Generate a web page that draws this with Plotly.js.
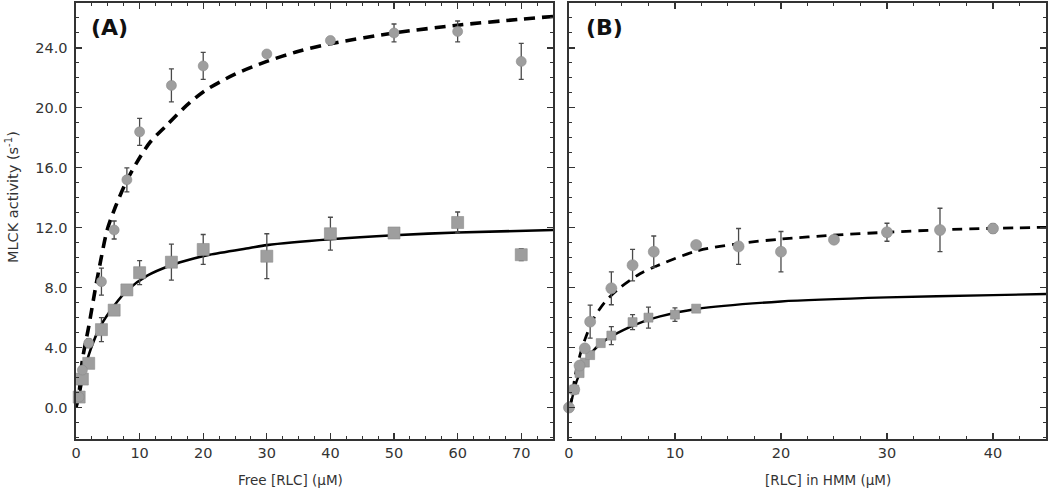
<!DOCTYPE html>
<html>
<head>
<meta charset="utf-8">
<script src="https://cdn.plot.ly/plotly-3.0.1.min.js"></script>
<style>html,body{margin:0;padding:0;background:#fff;}#chart{width:1050px;height:493px;}</style>
</head>
<body>
<div id="chart"></div>
<script>
// ---- Panel A: free RLC ----
const aCircleX   = [0.5, 1, 2, 4, 6, 8, 10, 15, 20, 30, 40, 50, 60, 70];
const aCircleY   = [0.7, 2.5, 4.3, 8.4, 11.85, 15.2, 18.4, 21.5, 22.8, 23.6, 24.5, 25.0, 25.1, 23.1];
const aCircleErr = [0.1, 0.2, 0.3, 0.9, 0.6, 0.8, 0.9, 1.1, 0.9, 0.15, 0.2, 0.6, 0.7, 1.2];

const aSquareX   = [0.5, 1, 2, 4, 6, 8, 10, 15, 20, 30, 40, 50, 60, 70];
const aSquareY   = [0.7, 1.9, 2.95, 5.2, 6.5, 7.85, 9.0, 9.7, 10.55, 10.1, 11.6, 11.65, 12.35, 10.2];
const aSquareErr = [0.1, 0.2, 0.2, 0.8, 0.2, 0.2, 0.8, 1.2, 1.0, 1.5, 1.1, 0.2, 0.7, 0.4];

const aDashX = [0, 0.47, 1.0, 2.0, 3.1, 3.9, 4.9, 6.2, 8.05, 10.1, 11.7, 14.3, 16.9, 20.1, 25, 30, 35, 40, 50, 60, 70, 75];
const aDashY = [0, 0.95, 3.17, 5.4, 8.07, 9.85, 11.85, 13.4, 15.2, 16.74, 17.74, 18.86, 19.97, 21.1, 22.25, 23.1, 23.78, 24.28, 25.0, 25.52, 25.92, 26.1];

const aSolidX = [0, 0.47, 1.25, 2.3, 3.87, 5.96, 8.05, 11.2, 14.85, 18.5, 21, 27.3, 30, 40, 50, 60, 75];
const aSolidY = [0, 0.72, 2.35, 3.88, 5.45, 6.78, 7.82, 8.8, 9.48, 9.95, 10.2, 10.65, 10.84, 11.23, 11.5, 11.68, 11.85];

// ---- Panel B: RLC in HMM ----
const bCircleX   = [0, 0.5, 1, 1.5, 2, 4, 6, 8, 12, 16, 20, 25, 30, 35, 40];
const bCircleY   = [0, 1.2, 2.8, 3.95, 5.73, 7.96, 9.5, 10.4, 10.85, 10.75, 10.4, 11.2, 11.7, 11.85, 11.95];
const bCircleErr = [0, 0.2, 0.2, 0.2, 1.1, 1.1, 1.05, 1.05, 0.15, 1.2, 1.35, 0.1, 0.6, 1.45, 0.3];

const bSquareX   = [0.5, 1, 1.5, 2, 3, 4, 6, 7.5, 10, 12];
const bSquareY   = [1.2, 2.3, 3.0, 3.5, 4.3, 4.8, 5.7, 6.0, 6.2, 6.6];
const bSquareErr = [0.1, 0.2, 0.2, 0.2, 0.2, 0.6, 0.5, 0.7, 0.45, 0.15];

const bDashX = [0, 0.25, 0.57, 1.04, 1.51, 2.3, 3.4, 4.81, 6.7, 8.27, 12.05, 16.1, 20.07, 24.9, 30, 35, 40, 45];
const bDashY = [0, 0.5, 2.06, 3.5, 4.55, 5.9, 7.05, 8.0, 8.93, 9.45, 10.45, 10.95, 11.25, 11.5, 11.7, 11.86, 11.96, 12.03];

const bSolidX = [0, 0.25, 0.72, 1.35, 2.3, 3.55, 5.12, 7.0, 8.6, 12, 20, 30, 40, 45];
const bSolidY = [0, 0.5, 1.75, 2.8, 3.8, 4.55, 5.17, 5.73, 6.08, 6.58, 7.08, 7.35, 7.5, 7.58];

const yTickVals = [0, 4, 8, 12, 16, 20, 24];

const markerFill = '#9e9e9e';
const markerEdge = '#8c8c8c';
const errColor = '#4a4a4a';
const FONT = 'DejaVu Sans, Liberation Sans, Arial, sans-serif';

function curve(x, y, xa, ya, dash, width) {
  return {x: x, y: y, xaxis: xa, yaxis: ya, type: 'scatter', mode: 'lines',
    line: {color: '#000', width: width, dash: dash, shape: 'spline', smoothing: 0.8},
    hoverinfo: 'skip', showlegend: false};
}
function pts(x, y, err, xa, ya, symbol, size) {
  return {x: x, y: y, xaxis: xa, yaxis: ya, type: 'scatter', mode: 'markers',
    cliponaxis: false,
    marker: {symbol: symbol, size: size, color: markerFill, line: {color: markerEdge, width: 0.6}},
    error_y: {type: 'data', array: err, visible: true, color: errColor, thickness: 1.3, width: 2.5},
    showlegend: false};
}

const data = [
  curve(aSolidX, aSolidY, 'x', 'y', 'solid', 2.6),
  curve(aDashX, aDashY, 'x', 'y', '11px,7px', 3.6),
  curve(bSolidX, bSolidY, 'x2', 'y2', 'solid', 2.4),
  curve(bDashX, bDashY, 'x2', 'y2', '10px,7px', 2.8),
  pts(aSquareX, aSquareY, aSquareErr, 'x', 'y', 'square', 12),
  pts(aCircleX, aCircleY, aCircleErr, 'x', 'y', 'circle', 10),
  pts(bSquareX, bSquareY, bSquareErr, 'x2', 'y2', 'square', 9),
  pts(bCircleX, bCircleY, bCircleErr, 'x2', 'y2', 'circle', 11)
];

const axColor = '#333';
const tickFont = {family: FONT, size: 14.5, color: '#333'};
function xAxis(domain, range, anchor) {
  return {domain: domain, range: range, anchor: anchor, tick0: 0, dtick: 10,
    ticks: 'inside', ticklen: 6, tickwidth: 1.2, tickcolor: axColor,
    minor: {dtick: 2.5, ticks: 'inside', ticklen: 3, tickwidth: 1, tickcolor: axColor},
    showline: true, linecolor: axColor, linewidth: 1.6, mirror: 'ticks',
    showgrid: false, zeroline: false, tickfont: tickFont, fixedrange: true};
}
function yAxis(anchor, showLabels) {
  return {range: [-2.1, 27.0], anchor: anchor, tickvals: yTickVals, tickformat: '.1f',
    ticks: 'inside', ticklen: 6, tickwidth: 1.2, tickcolor: axColor,
    minor: {dtick: 1, ticks: 'inside', ticklen: 3, tickwidth: 1, tickcolor: axColor},
    showline: true, linecolor: axColor, linewidth: 1.6, mirror: 'ticks',
    showgrid: false, zeroline: false, showticklabels: showLabels, tickfont: tickFont,
    ticklabelstandoff: 4, fixedrange: true};
}

const layout = {
  width: 1050, height: 493,
  margin: {l: 76, r: 4, t: 3, b: 54},
  paper_bgcolor: '#fff', plot_bgcolor: '#fff',
  showlegend: false,
  xaxis: xAxis([0, 0.4918], [0, 75], 'y'),
  yaxis: yAxis('x', true),
  xaxis2: xAxis([0.5082, 1], [0, 45], 'y2'),
  yaxis2: yAxis('x2', false),
  annotations: [
    {text: '<b>(A)</b>', xref: 'paper', yref: 'paper', x: (89 - 76) / 970, y: (439 - 27) / 436,
      xanchor: 'left', yanchor: 'middle', showarrow: false,
      font: {family: FONT, size: 22, color: '#111'}},
    {text: '<b>(B)</b>', xref: 'paper', yref: 'paper', x: (584 - 76) / 970, y: (439 - 27) / 436,
      xanchor: 'left', yanchor: 'middle', showarrow: false,
      font: {family: FONT, size: 22, color: '#111'}},
    {text: 'MLCK activity (s<sup>-1</sup>)', xref: 'paper', yref: 'paper',
      x: (12 - 76) / 970, y: (439 - 197) / 436, textangle: -90,
      xanchor: 'center', yanchor: 'middle', showarrow: false,
      font: {family: FONT, size: 14.5, color: '#333'}},
    {text: 'Free [RLC] (\u00b5M)', xref: 'paper', yref: 'paper',
      x: (290 - 76) / 970, y: (439 - 480) / 436,
      xanchor: 'center', yanchor: 'middle', showarrow: false,
      font: {family: FONT, size: 13.5, color: '#333'}},
    {text: '[RLC] in HMM (\u00b5M)', xref: 'paper', yref: 'paper',
      x: (828 - 76) / 970, y: (439 - 480) / 436,
      xanchor: 'center', yanchor: 'middle', showarrow: false,
      font: {family: FONT, size: 13.5, color: '#333'}}
  ]
};

Plotly.newPlot('chart', data, layout, {displayModeBar: false, staticPlot: true});
</script>
</body>
</html>
